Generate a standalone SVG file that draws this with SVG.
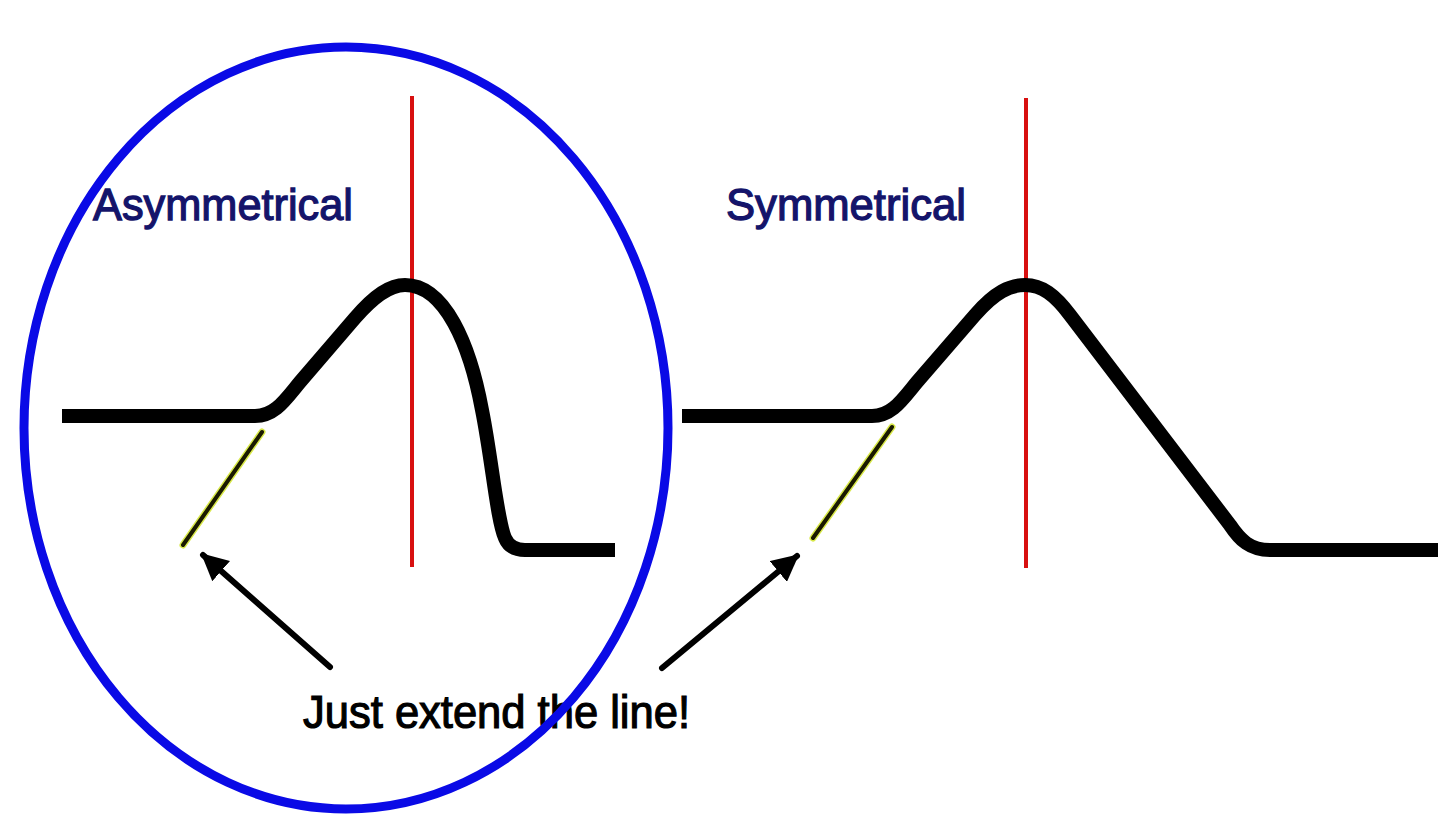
<svg xmlns="http://www.w3.org/2000/svg" width="1456" height="832" viewBox="0 0 1456 832">
<defs>
<style>
.curve{fill:none;stroke:#000;stroke-width:14;stroke-linejoin:round}
.axis{stroke:#d81010;stroke-width:4}
.ext-under{stroke:#d8e84a;stroke-width:7;stroke-linecap:round}
.ext{stroke:#1a1a00;stroke-width:4;stroke-linecap:round}
.arrow{stroke:#000;stroke-width:6;stroke-linecap:round;fill:none}
.title{font-family:"Liberation Sans",Arial,sans-serif;font-size:45px;fill:#14146a;stroke:#14146a;stroke-width:1.3}
.note{font-family:"Liberation Sans",Arial,sans-serif;font-size:46px;fill:#000;stroke:#000;stroke-width:1.2}
</style>
<marker id="ah" viewBox="0 0 10 10" refX="9" refY="5" markerWidth="4.5" markerHeight="4.5" orient="auto" markerUnits="strokeWidth">
<path d="M0,0 L10,5 L0,10 Z" fill="#000"/>
</marker>
</defs>
<rect width="1456" height="832" fill="#fff"/>
<g id="asymmetrical">
<text class="title" x="93" y="220" textLength="260" lengthAdjust="spacingAndGlyphs">Asymmetrical</text>
<line class="axis" x1="412" y1="96" x2="412" y2="567"/>
<path class="curve" d="M62,416 L255,416 C275,416 285,400 300,382 L355,318 C375,295 390,285 405,285 C445,285 470,345 482,410 C492,460 497,520 505,538 Q510,550 525,550 L615,550"/>
<line class="ext-under" x1="262" y1="432" x2="183" y2="545"/>
<line class="ext" x1="262" y1="432" x2="183" y2="545"/>
</g>
<g id="symmetrical">
<text class="title" x="726" y="220" textLength="240" lengthAdjust="spacingAndGlyphs">Symmetrical</text>
<line class="axis" x1="1026" y1="98" x2="1026" y2="568"/>
<path class="curve" d="M682,416 L872,416 C892,416 902,400 917,382 L975,315 C995,292 1010,285 1025,285 C1042,285 1055,295 1070,315 L1230,525 C1240,540 1250,550 1270,550 L1438,550"/>
<line class="ext-under" x1="892" y1="427" x2="813" y2="538"/>
<line class="ext" x1="892" y1="427" x2="813" y2="538"/>
</g>
<g id="note">
<text class="note" x="303" y="728" textLength="387" lengthAdjust="spacingAndGlyphs">Just extend the line!</text>
</g>
<g id="connectors">
<line class="arrow" x1="330" y1="667" x2="203" y2="555" marker-end="url(#ah)"/>
<line class="arrow" x1="662" y1="668" x2="797" y2="556" marker-end="url(#ah)"/>
</g>
<g id="highlight">
<ellipse cx="346" cy="428" rx="322" ry="381" fill="none" stroke="#0a0ae6" stroke-width="9"/>
</g>
</svg>
